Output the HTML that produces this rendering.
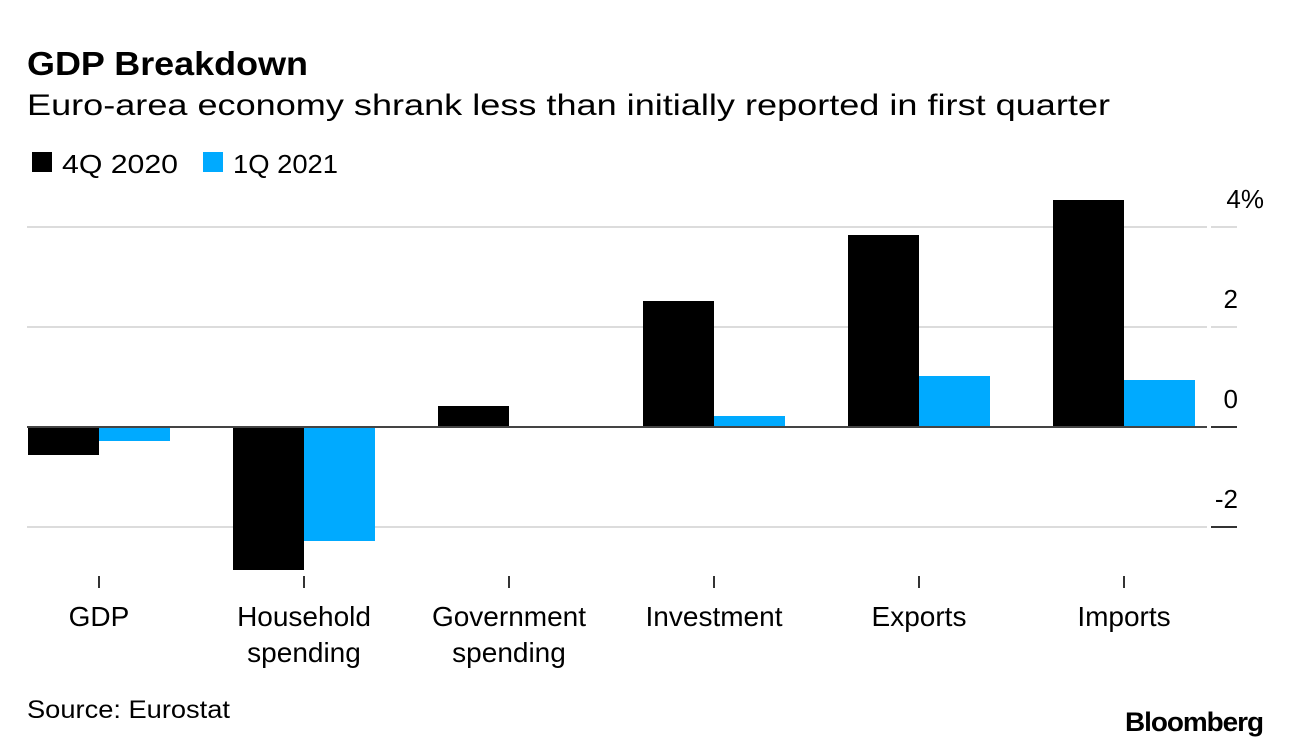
<!DOCTYPE html>
<html><head><meta charset="utf-8"><style>
body{margin:0;background:#fff;width:1292px;height:748px;overflow:hidden;font-family:"Liberation Sans",Arial,sans-serif}
svg{display:block}
</style></head><body>
<svg width="1292" height="748" font-family="Liberation Sans, Arial, sans-serif">
<text x="27" y="75" font-size="33" font-weight="bold" textLength="281" lengthAdjust="spacingAndGlyphs">GDP Breakdown</text>
<text x="27" y="115" font-size="30" textLength="1083" lengthAdjust="spacingAndGlyphs">Euro-area economy shrank less than initially reported in first quarter</text>
<g>
<rect x="32" y="152" width="20" height="20" fill="#000"/>
<text x="62" y="173" font-size="26" textLength="116" lengthAdjust="spacingAndGlyphs">4Q 2020</text>
<rect x="203" y="152" width="20" height="20" fill="#00aaff"/>
<text x="233" y="173" font-size="26" textLength="105" lengthAdjust="spacingAndGlyphs">1Q 2021</text>
</g>
<g id="grid"></g><g id="bars"></g><g id="axis"></g>
<text x="27" y="718" font-size="25" textLength="203" lengthAdjust="spacingAndGlyphs">Source: Eurostat</text>
<text x="1263" y="731" font-size="27" font-weight="bold" text-anchor="end" letter-spacing="-1" textLength="138" lengthAdjust="spacingAndGlyphs">Bloomberg</text>
</svg>
<script>
const categories=[["GDP"],["Household","spending"],["Government","spending"],["Investment"],["Exports"],["Imports"]];
const q4_2020=[-0.56,-2.86,0.42,2.52,3.84,4.54];
const q1_2021=[-0.28,-2.28,-0.02,0.22,1.02,0.94];
const yTicks=[4,2,0,-2];
const yTickLabels=["4%","2","0","-2"];
const NS="http://www.w3.org/2000/svg";
const y=v=>427-v*50;
const cx=i=>99+i*205;
const bw=71;
function mk(t,a,p){const e=document.createElementNS(NS,t);for(const k in a)e.setAttribute(k,a[k]);p.appendChild(e);return e;}
const grid=document.getElementById('grid'),bars=document.getElementById('bars'),axis=document.getElementById('axis');
yTicks.forEach((t,i)=>{
 const l=mk('line',{x1:27,x2:1207,y1:y(t),y2:y(t),stroke:'#dcdcdc','stroke-width':2},grid);
 
 
 const tk=mk('line',{x1:1211,x2:1237,y1:y(t),y2:y(t),stroke:(t<=0?'#333':'#dcdcdc'),'stroke-width':2},axis);
 
 
 const lab=yTickLabels[i];
 const tx=mk('text',{x:(lab.endsWith('%')?1264:1238),y:y(t)-19,'font-size':26,'text-anchor':'end'},axis);
 tx.textContent=lab;
 
 
});
categories.forEach((c,i)=>{
 [[q4_2020[i],'#000',cx(i)-bw],[q1_2021[i],'#00aaff',cx(i)]].forEach(([v,col,x])=>{
  const r=mk('rect',{x:x,y:Math.min(y(v),y(0)),width:bw,height:Math.max(Math.abs(y(v)-y(0)),1),fill:col},bars);
  
  
 });
 const tk=mk('line',{x1:cx(i),x2:cx(i),y1:576,y2:588,stroke:'#333','stroke-width':2},axis);
 
 
 c.forEach((s,j)=>{
  const t=mk('text',{x:cx(i),y:626+j*36,'font-size':28,'text-anchor':'middle'},axis);
  t.textContent=s;
  
  
 });
});
const zl=mk('line',{x1:27,x2:1207,y1:y(0),y2:y(0),stroke:'#444','stroke-width':2},bars);


</script>
</body></html>
